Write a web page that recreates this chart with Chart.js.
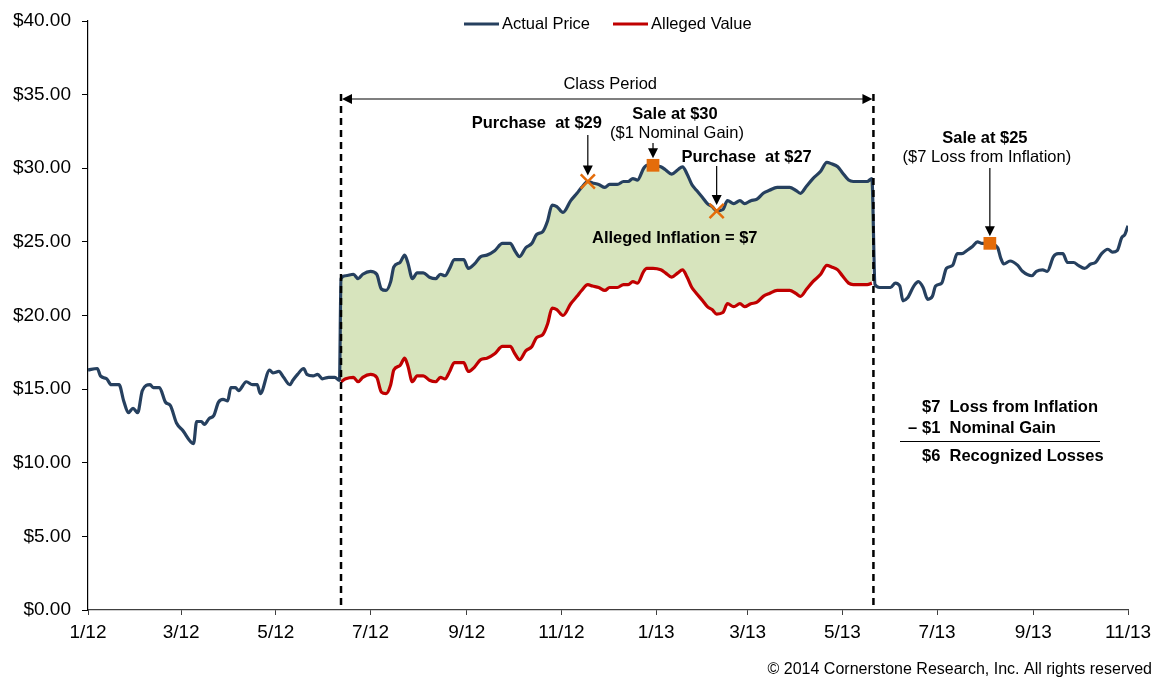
<!DOCTYPE html>
<html>
<head>
<meta charset="utf-8">
<script src="https://cdn.jsdelivr.net/npm/chart.js@4"></script>
<style>
  html, body { margin: 0; padding: 0; background: #fff; }
  #wrap { width: 1154px; height: 679px; }
</style>
</head>
<body>
<div id="wrap"><canvas id="chart" width="1154" height="679"></canvas></div>
<script>
// days since 1 Jan 2012
const days = [
  0, 6, 8, 12, 15, 20, 23, 26, 29, 32, 35, 40, 42, 46, 50, 53, 57, 61, 68, 70,
  73, 75, 78, 81, 84, 87, 90, 92, 95, 97, 102, 106, 109, 111, 117, 119, 123, 126, 130, 132,
  135, 139, 141, 145, 148, 151, 155, 159, 162,
  163, 166, 171, 174, 177, 182, 186, 189, 192, 195, 197, 201, 204, 206, 209, 212, 216, 220, 224, 227,
  230, 233, 236, 242, 245, 249, 253, 257, 262, 267, 272, 275, 278, 282, 286, 289, 293, 296, 299, 302,
  306, 311, 315, 318, 322, 325, 329, 333, 336, 341, 345, 348, 351, 354, 358, 360, 364, 369, 372, 376,
  380, 383, 386, 389, 392, 396, 399, 402, 405, 409, 412, 416, 420, 423, 427, 431, 435, 439, 444, 448,
  452, 456, 459, 463, 467, 472, 476, 479, 483, 486, 490, 493, 497, 502, 505,
  507, 510, 512, 517, 520, 523, 525, 528, 532, 535, 538, 541, 544, 546, 550, 553, 557, 560, 563, 566,
  570, 573, 576, 580, 586, 588, 590, 594, 599, 602, 608, 611, 615, 618, 622, 625, 628, 631, 635, 638,
  642, 646, 649, 653, 657, 660, 663, 666, 668, 670
];

const actualPrice = [
  16.3, 16.4, 15.9, 15.7, 15.3, 15.3, 14.2, 13.4, 13.7, 13.4, 14.9, 15.3, 15.1, 15.1, 14.1, 13.9, 12.7, 12.2, 11.3, 12.8,
  12.8, 12.6, 13.0, 13.2, 14.1, 14.3, 14.2, 15.1, 15.1, 14.9, 15.5, 15.3, 15.3, 14.7, 16.3, 16.1, 16.2, 15.8, 15.3, 15.6,
  16.0, 16.4, 16.0, 15.9, 16.0, 15.7, 15.8, 15.8, 15.6,
  22.5, 22.7, 22.8, 22.5, 22.8, 23.0, 22.8, 21.8, 21.7, 22.3, 23.3, 23.6, 24.1, 23.6, 22.5, 22.9, 22.9, 22.6, 22.5, 22.8,
  22.7, 23.2, 23.8, 23.8, 23.2, 23.5, 24.0, 24.1, 24.4, 24.9, 24.9, 24.4, 24.0, 24.6, 24.9, 25.5, 25.7, 26.4, 27.5, 27.4,
  27.0, 27.8, 28.3, 28.7, 29.1, 29.0, 28.9, 28.7, 28.9, 28.9, 29.1, 29.1, 29.3, 29.2, 30.0, 30.2, 30.2, 30.1, 29.9, 29.6,
  29.9, 30.1, 29.6, 28.9, 28.5, 28.0, 27.6, 27.4, 27.1, 27.2, 27.8, 27.6, 27.8, 27.6, 27.8, 27.9, 28.3, 28.5, 28.7, 28.7,
  28.7, 28.5, 28.3, 28.8, 29.3, 29.8, 30.4, 30.3, 30.1, 29.7, 29.2, 29.1, 29.1, 29.1, 29.3,
  22.1, 21.9, 21.9, 21.9, 22.2, 22.0, 21.0, 21.2, 22.0, 22.3, 21.9, 21.1, 21.3, 22.0, 22.2, 23.2, 23.4, 24.2, 24.2, 24.4,
  24.7, 25.0, 24.9, 24.9, 24.6, 23.9, 23.5, 23.7, 23.4, 23.0, 22.7, 23.0, 23.1, 23.0, 24.0, 24.2, 24.2, 23.6, 23.6, 23.4,
  23.2, 23.5, 23.6, 24.2, 24.5, 24.3, 24.4, 25.3, 25.5, 26.1
];

const _ = null;
const allegedValue = [
  _, _, _, _, _, _, _, _, _, _, _, _, _, _, _, _, _, _, _, _,
  _, _, _, _, _, _, _, _, _, _, _, _, _, _, _, _, _, _, _, _,
  _, _, _, _, _, _, _, _, _,
  15.5, 15.7, 15.8, 15.5, 15.8, 16.0, 15.8, 14.8, 14.7, 15.3, 16.3, 16.6, 17.1, 16.6, 15.5, 15.9, 15.9, 15.6, 15.5, 15.8,
  15.7, 16.2, 16.8, 16.8, 16.2, 16.5, 17.0, 17.1, 17.4, 17.9, 17.9, 17.4, 17.0, 17.6, 17.9, 18.5, 18.7, 19.4, 20.5, 20.4,
  20.0, 20.8, 21.3, 21.7, 22.1, 22.0, 21.9, 21.7, 21.9, 21.9, 22.1, 22.1, 22.3, 22.2, 23.0, 23.2, 23.2, 23.1, 22.9, 22.6,
  22.9, 23.1, 22.6, 21.9, 21.5, 21.0, 20.6, 20.4, 20.1, 20.2, 20.8, 20.6, 20.8, 20.6, 20.8, 20.9, 21.3, 21.5, 21.7, 21.7,
  21.7, 21.5, 21.3, 21.8, 22.3, 22.8, 23.4, 23.3, 23.1, 22.7, 22.2, 22.1, 22.1, 22.1, 22.2,
  _, _, _, _, _, _, _, _, _, _, _, _, _, _, _, _, _, _, _, _,
  _, _, _, _, _, _, _, _, _, _, _, _, _, _, _, _, _, _, _, _,
  _, _, _, _, _, _, _, _, _, _
];

// trades
const purchaseDays = [322, 405];
const purchasePrices = [29.1, 27.1];
const saleDays = [364, 581];
const salePrices = [30.2, 24.9];

const classStart = 163;
const classEnd = 506;

const tickDays = [0, 60, 121, 182, 244, 305, 366, 425, 486, 547, 609, 670];
const tickLabels = ['1/12', '3/12', '5/12', '7/12', '9/12', '11/12', '1/13', '3/13', '5/13', '7/13', '9/13', '11/13'];

const BLUE = '#26405f';
const RED = '#c00000';
const GREEN = '#d7e4bd';
const ORANGE = '#e46c0a';
const FONT = "'Liberation Sans', Arial, sans-serif";

function arrowHead(ctx, x, y, angle, len, half) {
  ctx.save();
  ctx.translate(x, y);
  ctx.rotate(angle);
  ctx.beginPath();
  ctx.moveTo(0, 0);
  ctx.lineTo(-len, -half);
  ctx.lineTo(-len, half);
  ctx.closePath();
  ctx.fill();
  ctx.restore();
}

function downArrow(ctx, x, y1, y2) {
  ctx.beginPath();
  ctx.moveTo(x, y1);
  ctx.lineTo(x, y2 - 8);
  ctx.stroke();
  arrowHead(ctx, x, y2, Math.PI / 2, 10, 5);
}

function text(ctx, str, x, y, bold, align) {
  ctx.font = (bold ? 'bold ' : '') + '16.5px ' + FONT;
  ctx.textAlign = align || 'center';
  ctx.textBaseline = 'middle';
  ctx.fillText(str, x, y);
}

const notes = {
  id: 'notes',
  afterDatasetsDraw(chart) {
    const { ctx, scales: { x, y } } = chart;
    ctx.save();
    ctx.fillStyle = '#000';
    ctx.strokeStyle = '#000';

    // class period lines
    const xs = x.getPixelForValue(classStart);
    const xe = x.getPixelForValue(classEnd);
    ctx.lineWidth = 2.5;
    ctx.setLineDash([7, 5]);
    [xs, xe].forEach(px => {
      ctx.beginPath();
      ctx.moveTo(px, 94);
      ctx.lineTo(px, y.bottom);
      ctx.stroke();
    });
    ctx.setLineDash([]);
    ctx.lineWidth = 1.2;
    ctx.beginPath();
    ctx.moveTo(xs + 6, 99);
    ctx.lineTo(xe - 6, 99);
    ctx.stroke();
    arrowHead(ctx, xs + 1, 99, Math.PI, 10, 5);
    arrowHead(ctx, xe - 1, 99, 0, 10, 5);
    text(ctx, 'Class Period', (xs + xe) / 2 + 3, 84, false);

    // trade callouts
    const p1x = x.getPixelForValue(purchaseDays[0]), p1y = y.getPixelForValue(purchasePrices[0]);
    const s1x = x.getPixelForValue(saleDays[0]), s1y = y.getPixelForValue(salePrices[0]);
    const p2x = x.getPixelForValue(purchaseDays[1]), p2y = y.getPixelForValue(purchasePrices[1]);
    const s2x = x.getPixelForValue(saleDays[1]), s2y = y.getPixelForValue(salePrices[1]);
    ctx.lineWidth = 1.2;
    downArrow(ctx, p1x, 135, p1y - 6);
    downArrow(ctx, s1x, 143, s1y - 7);
    downArrow(ctx, p2x, 166, p2y - 6);
    downArrow(ctx, s2x, 168, s2y - 7);

    text(ctx, 'Purchase  at $29', p1x - 51, 123, true);
    text(ctx, 'Sale at $30', s1x + 22, 114, true);
    text(ctx, '($1 Nominal Gain)', s1x + 24, 133, false);
    text(ctx, 'Purchase  at $27', p2x + 30, 157, true);
    text(ctx, 'Sale at $25', s2x - 5, 138, true);
    text(ctx, '($7 Loss from Inflation)', s2x - 3, 157, false);
    text(ctx, 'Alleged Inflation = $7', x.getPixelForValue(378), y.getPixelForValue(25.2), true);

    // loss summary
    text(ctx, '$7  Loss from Inflation', 922, 407, true, 'left');
    text(ctx, '\u2013', 908, 428, true, 'left');
    text(ctx, '$1  Nominal Gain', 922, 428, true, 'left');
    ctx.lineWidth = 1;
    ctx.beginPath();
    ctx.moveTo(900, 441.5);
    ctx.lineTo(1100, 441.5);
    ctx.stroke();
    text(ctx, '$6  Recognized Losses', 922, 456, true, 'left');

    // legend
    ctx.lineWidth = 3;
    ctx.strokeStyle = BLUE;
    ctx.beginPath(); ctx.moveTo(464, 24); ctx.lineTo(499, 24); ctx.stroke();
    ctx.strokeStyle = RED;
    ctx.beginPath(); ctx.moveTo(613, 24); ctx.lineTo(648, 24); ctx.stroke();
    text(ctx, 'Actual Price', 502, 24, false, 'left');
    text(ctx, 'Alleged Value', 651, 24, false, 'left');

    // footer
    ctx.font = '16px ' + FONT;
    ctx.textAlign = 'right';
    ctx.fillText('\u00a9 2014 Cornerstone Research, Inc. All rights reserved', 1152, 670);
    ctx.restore();
  }
};

new Chart(document.getElementById('chart'), {
  type: 'line',
  data: {
    datasets: [
      {
        label: 'Purchase',
        data: purchaseDays.map((d, i) => ({ x: d, y: purchasePrices[i] })),
        showLine: false,
        pointStyle: 'crossRot',
        pointRadius: 10,
        pointBorderWidth: 2.5,
        borderColor: ORANGE,
        backgroundColor: ORANGE
      },
      {
        label: 'Sale',
        data: saleDays.map((d, i) => ({ x: d, y: salePrices[i] })),
        showLine: false,
        pointStyle: 'rect',
        pointRadius: 9,
        pointBorderWidth: 0,
        borderColor: ORANGE,
        backgroundColor: ORANGE
      },
      {
        label: 'Actual Price',
        data: days.map((d, i) => ({ x: d, y: actualPrice[i] })),
        borderColor: BLUE,
        borderWidth: 3.2,
        pointRadius: 0,
        cubicInterpolationMode: 'monotone',
        fill: false
      },
      {
        label: 'Alleged Value',
        data: days.map((d, i) => ({ x: d, y: allegedValue[i] })),
        borderColor: RED,
        borderWidth: 3.2,
        pointRadius: 0,
        cubicInterpolationMode: 'monotone',
        backgroundColor: GREEN,
        fill: { target: 2, above: GREEN, below: GREEN }
      }
    ]
  },
  options: {
    responsive: false,
    animation: false,
    devicePixelRatio: 1,
    layout: { padding: { top: 21, right: 26, left: 0, bottom: 0 } },
    plugins: {
      legend: { display: false },
      tooltip: { enabled: false },
      filler: { drawTime: 'beforeDatasetsDraw' }
    },
    scales: {
      x: {
        type: 'linear',
        min: 0,
        max: 670,
        afterBuildTicks: s => { s.ticks = tickDays.map(v => ({ value: v })); },
        afterFit: s => { s.height = 69; s.paddingLeft = 0; s.paddingRight = 0; },
        ticks: {
          autoSkip: false,
          maxRotation: 0,
          padding: 6,
          color: '#000',
          font: { family: FONT, size: 19 },
          callback: (v, i) => tickLabels[i]
        },
        grid: { drawOnChartArea: false, tickLength: 5, color: '#404040' },
        border: { color: '#404040', width: 1.2 }
      },
      y: {
        min: 0,
        max: 40,
        afterFit: s => { s.width = 88; s.paddingTop = 0; s.paddingBottom = 0; },
        ticks: {
          stepSize: 5,
          padding: 11,
          color: '#000',
          font: { family: FONT, size: 19 },
          callback: v => '$' + v.toFixed(2)
        },
        grid: { drawOnChartArea: false, tickLength: 6, color: '#000' },
        border: { color: '#000', width: 1.2 }
      }
    }
  },
  plugins: [notes]
});
</script>
</body>
</html>
